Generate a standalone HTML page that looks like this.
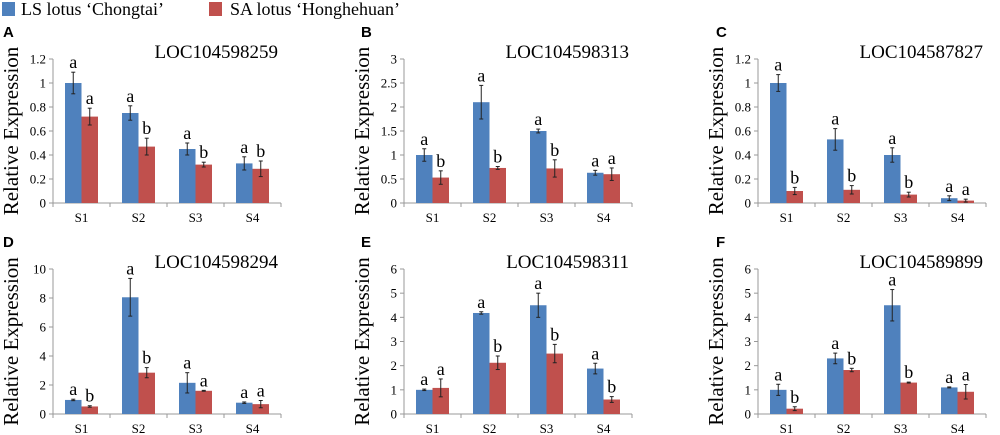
<!DOCTYPE html>
<html><head><meta charset="utf-8">
<style>
html,body{margin:0;padding:0;background:#fff;width:1000px;height:435px;overflow:hidden}
svg{display:block;font-family:"Liberation Serif",serif}
svg text{font-family:"Liberation Serif",serif}
svg text.pl{font-family:"Liberation Sans",sans-serif;font-size:15px;font-weight:bold}
</style></head>
<body>
<svg id="chart" width="1000" height="435" viewBox="0 0 1000 435" xmlns="http://www.w3.org/2000/svg">
<g>
<rect x="2" y="2" width="13" height="14" fill="#4f81bd"/>
<text x="21" y="15" font-size="18">LS lotus ‘Chongtai’</text>
<rect x="209" y="2" width="13" height="14" fill="#c0504d"/>
<text x="230" y="15" font-size="18">SA lotus ‘Honghehuan’</text>
</g>
</svg>
<script>
const categories = ["S1","S2","S3","S4"];
const panelLetters = ["A","B","C","D","E","F"];
const geneNames = ["LOC104598259","LOC104598313","LOC104587827","LOC104598294","LOC104598311","LOC104589899"];
const yMaxes = [1.2,3,1.2,10,6,6];
const yTicksA = ["0","0.2","0.4","0.6","0.8","1","1.2"];
const yTicksB = ["0","0.5","1","1.5","2","2.5","3"];
const yTicksC = ["0","0.2","0.4","0.6","0.8","1","1.2"];
const yTicksD = ["0","2","4","6","8","10"];
const yTicksE = ["0","1","2","3","4","5","6"];
const yTicksF = ["0","1","2","3","4","5","6"];
const lsA = [1,0.75,0.45,0.33], lsErrA = [0.09,0.06,0.05,0.055], saA = [0.72,0.47,0.32,0.285], saErrA = [0.07,0.07,0.02,0.065];
const lsB = [1,2.1,1.5,0.63], lsErrB = [0.13,0.35,0.04,0.05], saB = [0.53,0.73,0.72,0.6], saErrB = [0.14,0.03,0.18,0.13];
const lsC = [1,0.53,0.40,0.04], lsErrC = [0.07,0.09,0.06,0.02], saC = [0.10,0.11,0.07,0.02], saErrC = [0.03,0.035,0.02,0.012];
const lsD = [0.97,8.05,2.15,0.78], lsErrD = [0.05,1.3,0.7,0.05], saD = [0.52,2.85,1.6,0.68], saErrD = [0.05,0.35,0.03,0.25];
const lsE = [1,4.18,4.5,1.88], lsErrE = [0.03,0.05,0.5,0.22], saE = [1.08,2.12,2.5,0.6], saErrE = [0.37,0.28,0.38,0.12];
const lsF = [1,2.3,4.5,1.1], lsErrF = [0.23,0.22,0.65,0.02], saF = [0.22,1.82,1.3,0.92], saErrF = [0.08,0.07,0.02,0.3];
const lsLetters = [["a","a","a","a"],["a","a","a","a"],["a","a","a","a"],["a","a","a","a"],["a","a","a","a"],["a","a","a","a"]];
const saLetters = [["a","b","b","b"],["b","b","b","a"],["b","b","b","a"],["b","b","a","a"],["a","b","b","b"],["b","b","b","a"]];

const panels = [
 {ls:lsA,le:lsErrA,sa:saA,se:saErrA,ticks:yTicksA},
 {ls:lsB,le:lsErrB,sa:saB,se:saErrB,ticks:yTicksB},
 {ls:lsC,le:lsErrC,sa:saC,se:saErrC,ticks:yTicksC},
 {ls:lsD,le:lsErrD,sa:saD,se:saErrD,ticks:yTicksD},
 {ls:lsE,le:lsErrE,sa:saE,se:saErrE,ticks:yTicksE},
 {ls:lsF,le:lsErrF,sa:saF,se:saErrF,ticks:yTicksF}
];
const NS="http://www.w3.org/2000/svg";
const svg=document.getElementById('chart');
function mk(tag,attrs,parent,txt){const e=document.createElementNS(NS,tag);for(const k in attrs)e.setAttribute(k,attrs[k]);if(txt!==undefined)e.textContent=txt;parent.appendChild(e);return e;}
const axX=[53,404,758], letterX=[3,361,716], rowTop=[59,269], rowBot=[203,414];
panels.forEach((p,i)=>{
 const col=i%3,row=Math.floor(i/3);
 const x0=axX[col], x1=x0+228, yT=rowTop[row], yB=rowBot[row], ymax=yMaxes[i];
 const yS=v=>yB-(v/ymax)*(yB-yT);
 const cw=(x1-x0)/categories.length, bw=16.5;
 const xC=j=>x0+cw*(j+0.5);
 const g=mk('g',{},svg);
 
 
 const L=mk('text',{x:letterX[col],y:yT-22,class:'pl'},g,panelLetters[i]);
 
 
 const T=mk('text',{x:x1-3,y:yT-1,'text-anchor':'end','font-size':'19'},g,geneNames[i]);
 
 
 const yt=mk('text',{x:0,y:0,'text-anchor':'middle','font-size':'21',transform:`translate(${x0-35},${(yT+yB)/2}) rotate(-90)`},g,'Relative Expression');
 
 
 const ya=mk('line',{x1:x0,y1:yT,x2:x0,y2:yB,stroke:'#999','stroke-width':1},g);
 
 
 const xa=mk('line',{x1:x0,y1:yB,x2:x1,y2:yB,stroke:'#999','stroke-width':1},g);
 
 
 const n=p.ticks.length;
 p.ticks.forEach((t,k)=>{
  const v=ymax*k/(n-1), y=yS(v);
  mk('line',{x1:x0-4,y1:y,x2:x0,y2:y,stroke:'#999'},g);
  const tl=mk('text',{x:x0-7,y:y+4.5,'text-anchor':'end','font-size':'13'},g,t);
  
  
 });
 for(let j=0;j<=categories.length;j++){const xx=x0+cw*j;mk('line',{x1:xx,y1:yB,x2:xx,y2:yB+4,stroke:'#999'},g);}
 categories.forEach((c,j)=>{
  const cl=mk('text',{x:xC(j),y:yB+19,'text-anchor':'middle','font-size':'13'},g,c);
  
  
  [[p.ls,p.le,'#4f81bd',-bw,lsLetters[i][j],'bar-ls'],[p.sa,p.se,'#c0504d',0,saLetters[i][j],'bar-sa']].forEach(s=>{
   const v=s[0][j], e=s[1][j], bx=xC(j)+s[3], top=yS(v);
   const r=mk('rect',{x:bx,y:top,width:bw,height:yB-top,fill:s[2]},g);
   
   
   const cx=bx+bw/2, eT=yS(v+e), eB=yS(Math.max(0,v-e));
   mk('line',{x1:cx,y1:eT,x2:cx,y2:eB,stroke:'#222','stroke-width':1},g);
   mk('line',{x1:cx-2,y1:eT,x2:cx+2,y2:eT,stroke:'#222'},g);
   mk('line',{x1:cx-2,y1:eB,x2:cx+2,y2:eB,stroke:'#222'},g);
   const st=mk('text',{x:cx,y:eT-4,'text-anchor':'middle','font-size':'18'},g,s[4]);
   
   
  });
 });
});
</script>
</body></html>
